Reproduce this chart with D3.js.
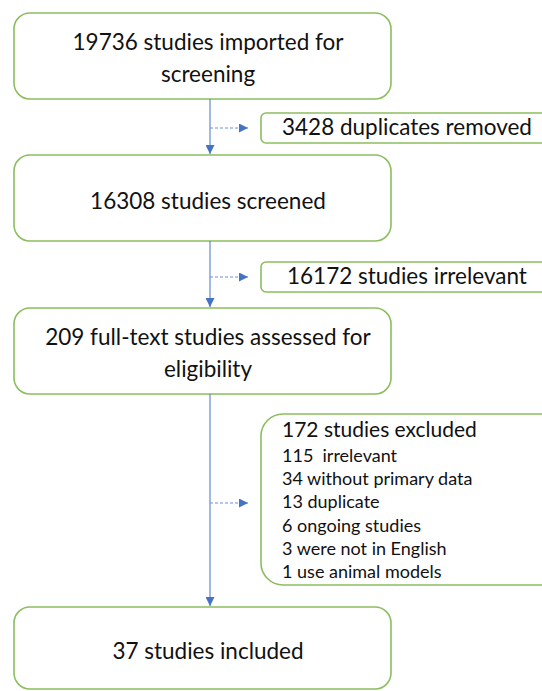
<!DOCTYPE html>
<html><head><meta charset="utf-8">
<script src="https://cdn.jsdelivr.net/npm/d3@7"></script>
<style>body{margin:0;background:#fff}svg{display:block}text{white-space:pre}</style>
</head><body>
<svg id="c" width="542" height="691"></svg>
<script>
const mainSteps = [
  ["19736 studies imported for", "screening"],
  ["16308 studies screened"],
  ["209 full-text studies assessed for", "eligibility"],
  ["37 studies included"]
];
const sideNotes = [
  "3428 duplicates removed",
  "16172 studies irrelevant"
];
const excludedTitle = "172 studies excluded";
const excludedReasons = [
  "115  irrelevant",
  "34 without primary data",
  "13 duplicate",
  "6 ongoing studies",
  "3 were not in English",
  "1 use animal models"
];

const svg = d3.select("#c");
const green = "#8cbd5e", blue = "#4472c4", font = "Lato, 'Open Sans', sans-serif";

const defs = svg.append("defs");
defs.append("marker").attr("id","ah").attr("viewBox","0 0 10 10").attr("refX",10).attr("refY",5)
  .attr("markerWidth",9).attr("markerHeight",9).attr("markerUnits","userSpaceOnUse").attr("orient","auto")
  .append("path").attr("d","M0,0L10,5L0,10Z").attr("fill",blue);

const mainBoxes = [
  {y0:13, y1:99}, {y0:155, y1:241}, {y0:308, y1:394}, {y0:607, y1:689}
];
const bx0 = 14, bx1 = 391, cx = 210, tcx = 208;

mainBoxes.forEach((b,i)=>{
  svg.append("rect").attr("x",bx0).attr("y",b.y0).attr("width",bx1-bx0).attr("height",b.y1-b.y0)
    .attr("rx",16).attr("fill","#fff").attr("stroke",green).attr("stroke-width",1.6);
  const lines = mainSteps[i];
  const mid = (b.y0+b.y1)/2;
  const base = lines.length === 1 ? [mid+11] : [mid-6, mid+26];
  lines.forEach((t,j)=>{
    svg.append("text").attr("x",tcx).attr("y", base[j])
      .attr("text-anchor","middle").attr("font-family",font).attr("font-size",22.5)
      .attr("fill","#111").text(t);
  });
});

for(let i=0;i<3;i++){
  svg.append("line").attr("x1",cx).attr("x2",cx).attr("y1",mainBoxes[i].y1).attr("y2",mainBoxes[i+1].y0-1)
    .attr("stroke",blue).attr("stroke-width",1).attr("marker-end","url(#ah)");
}

const sideBoxes = [{y0:113,y1:143,tx:282},{y0:262,y1:292,tx:287}];
const sx0 = 261;
sideBoxes.forEach((b,i)=>{
  svg.append("rect").attr("x",sx0).attr("y",b.y0).attr("width",300).attr("height",b.y1-b.y0)
    .attr("rx",5).attr("fill","#fff").attr("stroke",green).attr("stroke-width",1.6);
  svg.append("text").attr("x",b.tx).attr("y",(b.y0+b.y1)/2+7)
    .attr("font-family",font).attr("font-size",22.5).attr("fill","#111").text(sideNotes[i]);
});
const exBox = {y0:414, y1:585};
svg.append("rect").attr("x",sx0).attr("y",exBox.y0).attr("width",320).attr("height",exBox.y1-exBox.y0)
  .attr("rx",22).attr("fill","#fff").attr("stroke",green).attr("stroke-width",1.6);
svg.append("text").attr("x",282).attr("y",437).attr("font-family",font)
  .attr("font-size",21).attr("fill","#111").text(excludedTitle);
excludedReasons.forEach((t,j)=>{
  svg.append("text").attr("x",282).attr("y",462+j*23.2).attr("font-family",font)
    .attr("font-size",18).attr("fill","#111").text(t);
});

[(113+143)/2, (262+292)/2, 503].forEach(y=>{
  svg.append("line").attr("x1",cx).attr("x2",248).attr("y1",y).attr("y2",y)
    .attr("stroke","#6b8fd6").attr("stroke-width",1).attr("stroke-dasharray","3,2").attr("marker-end","url(#ah)");
});
</script>
</body></html>
